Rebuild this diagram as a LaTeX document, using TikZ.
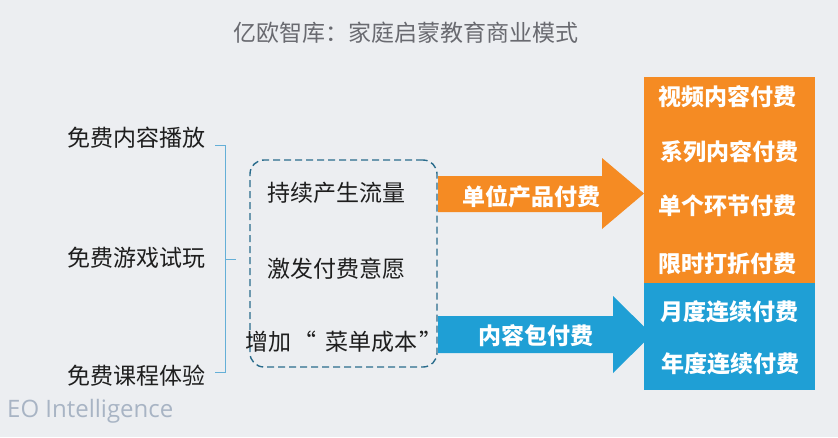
\documentclass[tikz,border=0pt]{standalone}
\usepackage{fontspec}
\setmainfont{Open Sans}
\newfontfamily\cjk{Noto Sans CJK SC}
\usetikzlibrary{positioning}
\definecolor{bggray}   {RGB}{236,238,241}
\definecolor{payorange}{RGB}{245,139,35}
\definecolor{payblue}  {RGB}{31,159,213}
\definecolor{titlegray}{RGB}{105,106,112}
\definecolor{brkblue}  {RGB}{100,175,215}
\definecolor{dashteal} {RGB}{42,108,140}
\definecolor{markgray} {RGB}{168,180,196}
\definecolor{txtdark}  {RGB}{30,30,30}
\tikzset{
  cntext/.style   ={font=\cjk\fontsize{23}{27}\selectfont, text=txtdark,
                    inner sep=0pt},
  whitetext/.style={font=\cjk\bfseries\fontsize{23}{27}\selectfont, text=white,
                    inner sep=0pt},
  paybox/.style   ={minimum width=171pt, inner sep=0pt},
  dashbox/.style  ={draw=dashteal, line width=1.4pt, dash pattern=on 7pt off 4pt,
                    rounded corners=14pt, minimum width=187pt, minimum height=207pt},
  brk/.style      ={draw=brkblue, line width=1pt},
}
\begin{document}
\begin{tikzpicture}[x=1pt,y=-1pt]
  %% background and title
  \fill[bggray] (0,0) rectangle (838,437);
  \node[cntext, text=titlegray] (title) at (406,33) {亿欧智库：家庭启蒙教育商业模式};
  %% free offers on the left
  \node[cntext] (free1) at (136.5,138) {免费内容播放};
  \node[cntext] (free2) at (136.5,258) {免费游戏试玩};
  \node[cntext] (free3) at (136.5,376) {免费课程体验};
  \draw[brk] (215,145) -- (225,145) -- (225,372) -- (215,372);
  \draw[brk] (225,259) -- (236,259);
  %% effects box
  \node[dashbox] (gain) at (343.5,263.5) {};
  \node[cntext] (gain1) at (336.5,193) {持续产生流量};
  \node[cntext] (gain2) at (336.5,269) {激发付费意愿};
  \node[cntext] (gain3) at (344,342) {增加\hspace{3pt}“\hspace{9pt}菜单成本\hspace{2pt}”};
  %% big arrows
  \fill[payorange] (438,176) -- (602,176) -- (602,158) -- (644,193.5)
    -- (602,229) -- (602,212) -- (438,212) -- cycle;
  \fill[payblue] (438,316) -- (613,316) -- (613,296) -- (652,334.5)
    -- (613,373) -- (613,353) -- (438,353) -- cycle;
  \node[whitetext] (unit) at (531,197) {单位产品付费};
  \node[whitetext] (pack) at (535.5,336) {内容包付费};
  %% payment boxes
  \node[paybox, fill=payorange, minimum height=206pt] (obox) at (729.5,180) {};
  \node[paybox, fill=payblue, minimum height=107pt] (bbox) at (729.5,336.5) {};
  \node[whitetext] (pay1) at (727,97)  {视频内容付费};
  \node[whitetext] (pay2) at (729,152) {系列内容付费};
  \node[whitetext] (pay3) at (727,206) {单个环节付费};
  \node[whitetext] (pay4) at (727,264) {限时打折付费};
  \node[whitetext] (pay5) at (729,312) {月度连续付费};
  \node[whitetext] (pay6) at (730,364) {年度连续付费};
  %% watermark
  \node[anchor=west, inner sep=0pt, text=markgray, font=\fontsize{24}{28}\selectfont]
    (mark) at (7,411) {EO Intelligence};
\end{tikzpicture}
\end{document}
